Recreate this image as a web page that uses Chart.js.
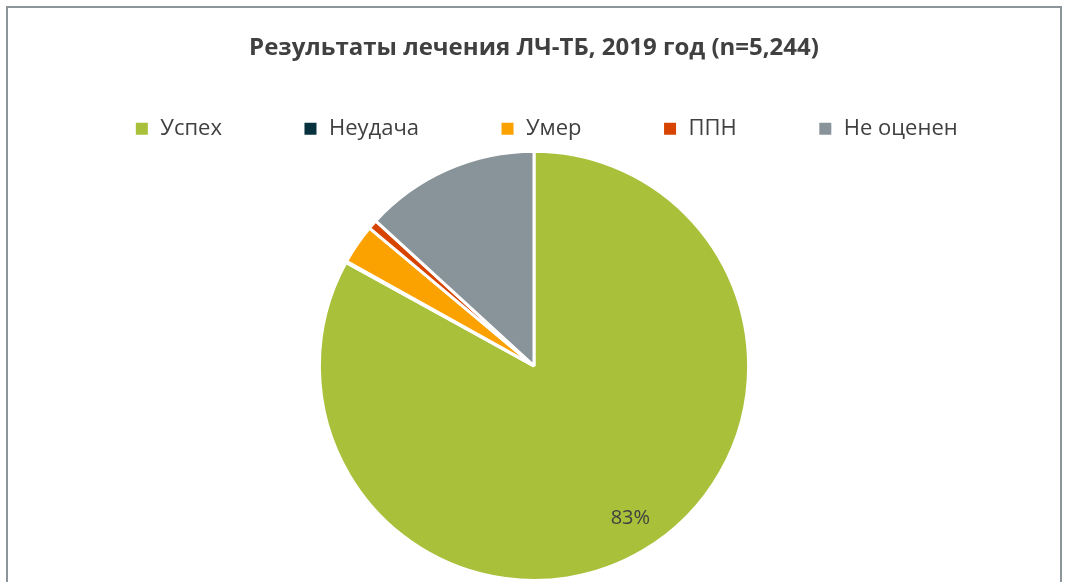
<!DOCTYPE html>
<html lang="ru">
<head>
  <meta charset="UTF-8">
  <title>Результаты лечения ЛЧ-ТБ</title>
  <script src="https://cdn.jsdelivr.net/npm/chart.js"></script>
  <style>
    html, body { margin: 0; padding: 0; background: #fff; overflow: hidden; }
    .frame {
      position: absolute; left: 6px; top: 6px; width: 1056px; height: 620px;
      border: 2px solid #8c969a; box-sizing: border-box;
    }
    .wrap { position: absolute; left: 0; top: 0; width: 1068px; height: 582px; }
  </style>
</head>
<body>
  <div class="frame"></div>
  <div class="wrap"><canvas id="chart"></canvas></div>

  <script>
    // категории и доли (%)
    const labels = ['Успех', 'Неудача', 'Умер', 'ППН', 'Не оценен'];
    const values = [83.0, 0.1, 3.0, 0.7, 13.2];
    const colors = ['#a9c03a', '#06313d', '#fba200', '#d64400', '#88949a'];
    const shownLabels = ['83%', '', '', '', ''];

    // подпись только у большого сектора
    const sliceLabels = {
      id: 'sliceLabels',
      afterDatasetsDraw(chart) {
        const ctx = chart.ctx;
        const meta = chart.getDatasetMeta(0);
        meta.data.forEach((arc, i) => {
          if (!shownLabels[i]) return;
          const p = arc.getProps(['x', 'y', 'startAngle', 'endAngle', 'outerRadius']);
          const mid = (p.startAngle + p.endAngle) / 2 - 0.03;
          const r = p.outerRadius * 0.84;
          ctx.save();
          ctx.fillStyle = '#404040';
          ctx.font = '20px "Open Sans", sans-serif';
          ctx.textAlign = 'center';
          ctx.textBaseline = 'middle';
          ctx.fillText(shownLabels[i], p.x + Math.cos(mid) * r, p.y + Math.sin(mid) * r);
          ctx.restore();
        });
      }
    };

    // легенда в оригинале чуть смещена вправо
    const legendShift = {
      id: 'legendShift',
      afterLayout(chart) {
        chart.legend.left += 12;
        chart.legend.right += 12;
      }
    };

    new Chart(document.getElementById('chart'), {
      type: 'pie',
      data: {
        labels: labels,
        datasets: [{
          data: values,
          backgroundColor: colors,
          borderColor: '#ffffff',
          borderWidth: 3
        }]
      },
      options: {
        responsive: true,
        maintainAspectRatio: false,
        animation: false,
        layout: { padding: 0 },
        plugins: {
          title: {
            display: true,
            text: 'Результаты лечения ЛЧ-ТБ, 2019 год (n=5,244)',
            color: '#404040',
            font: { family: '"Open Sans", sans-serif', size: 24, weight: 'bold' },
            // отрицательный нижний отступ компенсирует большой padding легенды
            padding: { top: 34, bottom: -26 }
          },
          legend: {
            position: 'top',
            labels: {
              color: '#404040',
              font: { family: '"Open Sans", sans-serif', size: 22 },
              boxWidth: 15,
              boxHeight: 15,
              padding: 81
            }
          },
          tooltip: { enabled: false }
        }
      },
      plugins: [sliceLabels, legendShift]
    });
  </script>
</body>
</html>
